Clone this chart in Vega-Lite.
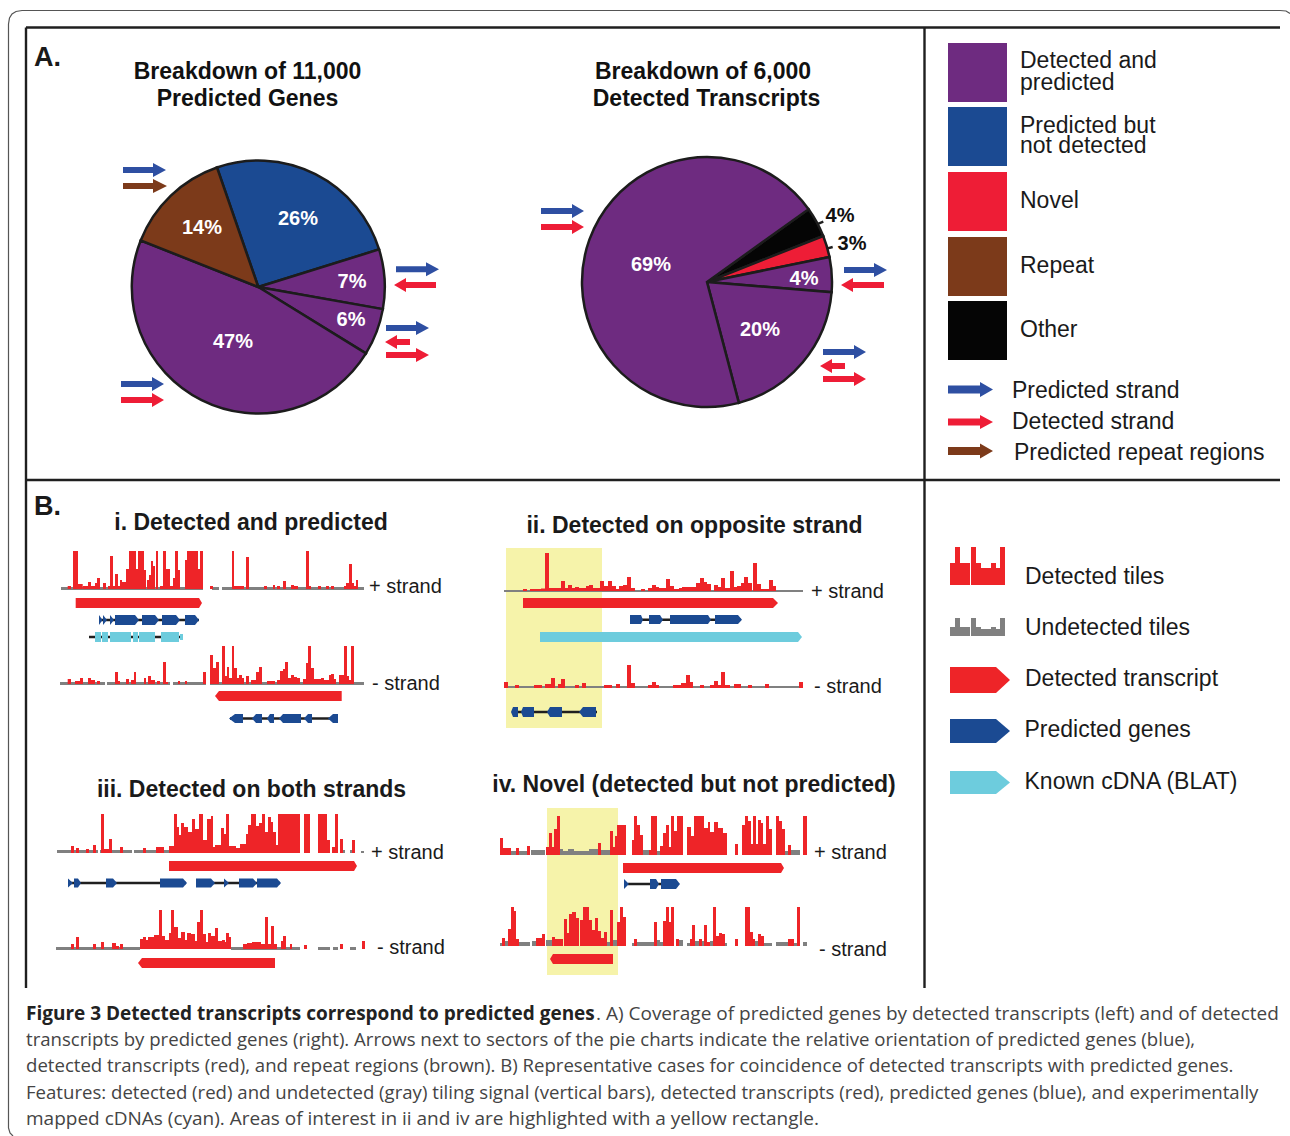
{"$schema":"https://vega.github.io/schema/vega-lite/v6.json","width":1290,"height":1136,"padding":0,"autosize":{"type":"none"},"background":"white","view":{"stroke":null},
"config":{"text":{"font":"Liberation Sans"}},
"datasets":{
"blocks":[
{"k":"yel","x":506,"x2":602,"y":548,"b":728},{"k":"yel","x":547,"x2":618,"y":808,"b":975},
{"k":"pur","x":948,"x2":1007,"y":43,"b":102},{"k":"blu","x":948,"x2":1007,"y":107,"b":166},{"k":"nov","x":948,"x2":1007,"y":172,"b":231},{"k":"rep","x":948,"x2":1007,"y":237,"b":296},{"k":"oth","x":948,"x2":1007,"y":301,"b":360}],
"tiles":[
{"s":"i+","k":"und","x":61,"x2":203,"y":587,"b":590},{"s":"i+","k":"und","x":212,"x2":219,"y":587,"b":590},{"s":"i+","k":"und","x":222,"x2":364,"y":587,"b":590},
{"s":"i-","k":"und","x":60,"x2":105,"y":682,"b":685},{"s":"i-","k":"und","x":107,"x2":170,"y":682,"b":685},{"s":"i-","k":"und","x":173,"x2":206,"y":682,"b":685},{"s":"i-","k":"und","x":210,"x2":364,"y":682,"b":685},
{"s":"ii+","k":"und","x":504,"x2":803,"y":590,"b":592},{"s":"ii-","k":"und","x":504,"x2":803,"y":686,"b":688},
{"s":"iii+","k":"und","x":57,"x2":98,"y":850,"b":853},{"s":"iii+","k":"und","x":100,"x2":132,"y":850,"b":853},{"s":"iii+","k":"und","x":134,"x2":173,"y":850,"b":853},{"s":"iii+","k":"und","x":340,"x2":345,"y":850,"b":853},{"s":"iii+","k":"und","x":350,"x2":355,"y":850,"b":853},{"s":"iii+","k":"und","x":361,"x2":364,"y":851,"b":853},
{"s":"iii-","k":"und","x":56,"x2":140,"y":947,"b":950},{"s":"iii-","k":"und","x":231,"x2":300,"y":947,"b":950},{"s":"iii-","k":"und","x":318,"x2":330,"y":947,"b":950},{"s":"iii-","k":"und","x":333,"x2":338,"y":947,"b":950},{"s":"iii-","k":"und","x":350,"x2":356,"y":947,"b":950},
{"s":"iv+","k":"und","x":510,"x2":527,"y":851,"b":855},{"s":"iv+","k":"und","x":531,"x2":545,"y":850,"b":855},{"s":"iv+","k":"und","x":560,"x2":563,"y":849,"b":855},{"s":"iv+","k":"und","x":563,"x2":568,"y":851,"b":855},{"s":"iv+","k":"und","x":568,"x2":574,"y":849,"b":855},{"s":"iv+","k":"und","x":574,"x2":589,"y":851,"b":855},{"s":"iv+","k":"und","x":589,"x2":598,"y":849,"b":855},{"s":"iv+","k":"und","x":601,"x2":610,"y":850,"b":855},{"s":"iv+","k":"und","x":643,"x2":651,"y":850,"b":855},{"s":"iv+","k":"und","x":657,"x2":660,"y":851,"b":855},{"s":"iv+","k":"und","x":785,"x2":788,"y":851,"b":855},{"s":"iv+","k":"und","x":791,"x2":800,"y":850,"b":855},
{"s":"iv-","k":"und","x":500,"x2":503,"y":943,"b":946},{"s":"iv-","k":"und","x":505,"x2":508,"y":941,"b":946},{"s":"iv-","k":"und","x":519,"x2":530,"y":942,"b":946},{"s":"iv-","k":"und","x":532,"x2":536,"y":941,"b":946},{"s":"iv-","k":"und","x":546,"x2":552,"y":940,"b":946},{"s":"iv-","k":"und","x":607,"x2":610,"y":942,"b":946},{"s":"iv-","k":"und","x":612,"x2":617,"y":940,"b":946},{"s":"iv-","k":"und","x":632,"x2":634,"y":943,"b":946},{"s":"iv-","k":"und","x":637,"x2":654,"y":942,"b":946},{"s":"iv-","k":"und","x":657,"x2":660,"y":940,"b":946},{"s":"iv-","k":"und","x":660,"x2":663,"y":942,"b":946},{"s":"iv-","k":"und","x":679,"x2":683,"y":940,"b":946},{"s":"iv-","k":"und","x":687,"x2":690,"y":943,"b":946},{"s":"iv-","k":"und","x":695,"x2":705,"y":941,"b":946},{"s":"iv-","k":"und","x":710,"x2":713,"y":941,"b":946},{"s":"iv-","k":"und","x":725,"x2":727,"y":943,"b":946},{"s":"iv-","k":"und","x":755,"x2":758,"y":941,"b":946},{"s":"iv-","k":"und","x":764,"x2":772,"y":943,"b":946},{"s":"iv-","k":"und","x":776,"x2":788,"y":942,"b":946},{"s":"iv-","k":"und","x":794,"x2":797,"y":943,"b":946},{"s":"iv-","k":"und","x":803,"x2":807,"y":942,"b":946},
{"s":"lg","k":"und","x":950,"x2":955,"y":627,"b":636},{"s":"lg","k":"und","x":955,"x2":960,"y":618,"b":636},{"s":"lg","k":"und","x":960,"x2":970,"y":627,"b":636},{"s":"lg","k":"und","x":971,"x2":976,"y":618,"b":636},{"s":"lg","k":"und","x":976,"x2":981,"y":627,"b":636},{"s":"lg","k":"und","x":981,"x2":991,"y":629,"b":636},{"s":"lg","k":"und","x":991,"x2":996,"y":627,"b":636},{"s":"lg","k":"und","x":996,"x2":1000,"y":629,"b":636},{"s":"lg","k":"und","x":1000,"x2":1005,"y":618,"b":636},
{"s":"lg","k":"det","x":950,"x2":955,"y":563,"b":585},{"s":"lg","k":"det","x":955,"x2":960,"y":547,"b":585},{"s":"lg","k":"det","x":960,"x2":970,"y":563,"b":585},{"s":"lg","k":"det","x":971,"x2":976,"y":547,"b":585},{"s":"lg","k":"det","x":976,"x2":981,"y":563,"b":585},{"s":"lg","k":"det","x":981,"x2":991,"y":568,"b":585},{"s":"lg","k":"det","x":991,"x2":996,"y":563,"b":585},{"s":"lg","k":"det","x":996,"x2":1000,"y":568,"b":585},{"s":"lg","k":"det","x":1000,"x2":1005,"y":547,"b":585},
{"s":"i+","k":"det","x":67.7,"x2":71,"y":586,"b":589},{"s":"i+","k":"det","x":73,"x2":78,"y":551,"b":589},{"s":"i+","k":"det","x":78,"x2":82.7,"y":584,"b":589},{"s":"i+","k":"det","x":82.7,"x2":88,"y":586,"b":589},{"s":"i+","k":"det","x":88,"x2":91,"y":582,"b":589},{"s":"i+","k":"det","x":91,"x2":95,"y":586,"b":589},{"s":"i+","k":"det","x":95,"x2":97,"y":583,"b":589},{"s":"i+","k":"det","x":97,"x2":100,"y":578,"b":589},{"s":"i+","k":"det","x":103,"x2":106,"y":583,"b":589},{"s":"i+","k":"det","x":108,"x2":110,"y":586,"b":589},{"s":"i+","k":"det","x":110,"x2":113,"y":556,"b":589},{"s":"i+","k":"det","x":113,"x2":115,"y":586,"b":589},{"s":"i+","k":"det","x":115,"x2":118,"y":574,"b":589},{"s":"i+","k":"det","x":118,"x2":120,"y":586,"b":589},{"s":"i+","k":"det","x":120,"x2":122,"y":580,"b":589},{"s":"i+","k":"det","x":122,"x2":126,"y":582,"b":589},{"s":"i+","k":"det","x":126,"x2":129,"y":569,"b":589},{"s":"i+","k":"det","x":129,"x2":136,"y":551,"b":589},{"s":"i+","k":"det","x":136,"x2":138,"y":569,"b":589},{"s":"i+","k":"det","x":138,"x2":144,"y":551,"b":589},{"s":"i+","k":"det","x":144,"x2":146,"y":570,"b":589},{"s":"i+","k":"det","x":147,"x2":149,"y":580,"b":589},{"s":"i+","k":"det","x":149,"x2":151,"y":575,"b":589},{"s":"i+","k":"det","x":151,"x2":153,"y":561,"b":589},{"s":"i+","k":"det","x":153,"x2":155,"y":566,"b":589},{"s":"i+","k":"det","x":156,"x2":158,"y":551,"b":589},{"s":"i+","k":"det","x":160,"x2":163,"y":586,"b":589},{"s":"i+","k":"det","x":163,"x2":166,"y":551,"b":589},{"s":"i+","k":"det","x":166,"x2":170,"y":569,"b":589},{"s":"i+","k":"det","x":170,"x2":173,"y":586,"b":589},{"s":"i+","k":"det","x":173,"x2":175,"y":578,"b":589},{"s":"i+","k":"det","x":175,"x2":178,"y":551,"b":589},{"s":"i+","k":"det","x":178,"x2":180,"y":570,"b":589},{"s":"i+","k":"det","x":185,"x2":187,"y":560,"b":589},{"s":"i+","k":"det","x":187,"x2":198,"y":551,"b":589},{"s":"i+","k":"det","x":198,"x2":200,"y":569,"b":589},{"s":"i+","k":"det","x":200,"x2":203,"y":551,"b":589},{"s":"i+","k":"det","x":210,"x2":213,"y":586,"b":589},{"s":"i+","k":"det","x":232,"x2":234,"y":551,"b":589},{"s":"i+","k":"det","x":234,"x2":244,"y":586,"b":589},{"s":"i+","k":"det","x":246,"x2":249,"y":557,"b":589},{"s":"i+","k":"det","x":264,"x2":267,"y":586,"b":589},{"s":"i+","k":"det","x":273,"x2":275,"y":585,"b":589},{"s":"i+","k":"det","x":277,"x2":280,"y":586,"b":589},{"s":"i+","k":"det","x":283,"x2":286,"y":581,"b":589},{"s":"i+","k":"det","x":291,"x2":294,"y":585,"b":589},{"s":"i+","k":"det","x":294,"x2":298,"y":586,"b":589},{"s":"i+","k":"det","x":306,"x2":309,"y":551,"b":589},{"s":"i+","k":"det","x":309,"x2":311,"y":586,"b":589},{"s":"i+","k":"det","x":318,"x2":321,"y":586,"b":589},{"s":"i+","k":"det","x":326,"x2":329,"y":586,"b":589},{"s":"i+","k":"det","x":331,"x2":334,"y":586,"b":589},{"s":"i+","k":"det","x":344,"x2":346,"y":586,"b":589},{"s":"i+","k":"det","x":346,"x2":349,"y":583,"b":589},{"s":"i+","k":"det","x":349,"x2":352,"y":564,"b":589},{"s":"i+","k":"det","x":352,"x2":354,"y":583,"b":589},{"s":"i+","k":"det","x":354,"x2":356,"y":586,"b":589},{"s":"i+","k":"det","x":356,"x2":358,"y":580,"b":589},
{"s":"i-","k":"det","x":67.7,"x2":71,"y":679,"b":684},{"s":"i-","k":"det","x":75,"x2":80,"y":681,"b":684},{"s":"i-","k":"det","x":80,"x2":83,"y":678,"b":684},{"s":"i-","k":"det","x":88,"x2":91,"y":678,"b":684},{"s":"i-","k":"det","x":91,"x2":95,"y":680,"b":684},{"s":"i-","k":"det","x":97,"x2":100,"y":681,"b":684},{"s":"i-","k":"det","x":115,"x2":118,"y":672,"b":684},{"s":"i-","k":"det","x":118,"x2":120,"y":681,"b":684},{"s":"i-","k":"det","x":126,"x2":129,"y":679,"b":684},{"s":"i-","k":"det","x":131,"x2":134,"y":680,"b":684},{"s":"i-","k":"det","x":134,"x2":136,"y":672,"b":684},{"s":"i-","k":"det","x":144,"x2":146,"y":678,"b":684},{"s":"i-","k":"det","x":148,"x2":151,"y":676,"b":684},{"s":"i-","k":"det","x":151,"x2":155,"y":680,"b":684},{"s":"i-","k":"det","x":157,"x2":160,"y":681,"b":684},{"s":"i-","k":"det","x":163,"x2":166,"y":662,"b":684},{"s":"i-","k":"det","x":166,"x2":168,"y":682,"b":684},{"s":"i-","k":"det","x":178,"x2":180,"y":681,"b":684},{"s":"i-","k":"det","x":185,"x2":187,"y":681,"b":684},{"s":"i-","k":"det","x":203,"x2":206,"y":672,"b":684},{"s":"i-","k":"det","x":210,"x2":213,"y":655,"b":684},{"s":"i-","k":"det","x":213,"x2":216,"y":668,"b":684},{"s":"i-","k":"det","x":216,"x2":219,"y":662,"b":684},{"s":"i-","k":"det","x":222,"x2":225,"y":646,"b":684},{"s":"i-","k":"det","x":225,"x2":227,"y":676,"b":684},{"s":"i-","k":"det","x":227,"x2":229,"y":667,"b":684},{"s":"i-","k":"det","x":229,"x2":232,"y":678,"b":684},{"s":"i-","k":"det","x":232,"x2":234,"y":646,"b":684},{"s":"i-","k":"det","x":234,"x2":237,"y":668,"b":684},{"s":"i-","k":"det","x":237,"x2":239,"y":678,"b":684},{"s":"i-","k":"det","x":239,"x2":242,"y":675,"b":684},{"s":"i-","k":"det","x":242,"x2":244,"y":678,"b":684},{"s":"i-","k":"det","x":246,"x2":249,"y":676,"b":684},{"s":"i-","k":"det","x":251,"x2":256,"y":680,"b":684},{"s":"i-","k":"det","x":256,"x2":259,"y":672,"b":684},{"s":"i-","k":"det","x":259,"x2":262,"y":667,"b":684},{"s":"i-","k":"det","x":267,"x2":275,"y":681,"b":684},{"s":"i-","k":"det","x":277,"x2":280,"y":680,"b":684},{"s":"i-","k":"det","x":280,"x2":283,"y":671,"b":684},{"s":"i-","k":"det","x":283,"x2":285,"y":669,"b":684},{"s":"i-","k":"det","x":285,"x2":288,"y":662,"b":684},{"s":"i-","k":"det","x":288,"x2":291,"y":678,"b":684},{"s":"i-","k":"det","x":291,"x2":294,"y":675,"b":684},{"s":"i-","k":"det","x":294,"x2":297,"y":677,"b":684},{"s":"i-","k":"det","x":297,"x2":300,"y":678,"b":684},{"s":"i-","k":"det","x":303,"x2":306,"y":679,"b":684},{"s":"i-","k":"det","x":306,"x2":308,"y":663,"b":684},{"s":"i-","k":"det","x":308,"x2":311,"y":646,"b":684},{"s":"i-","k":"det","x":311,"x2":314,"y":668,"b":684},{"s":"i-","k":"det","x":314,"x2":321,"y":679,"b":684},{"s":"i-","k":"det","x":321,"x2":324,"y":678,"b":684},{"s":"i-","k":"det","x":324,"x2":329,"y":680,"b":684},{"s":"i-","k":"det","x":329,"x2":331,"y":675,"b":684},{"s":"i-","k":"det","x":331,"x2":334,"y":674,"b":684},{"s":"i-","k":"det","x":334,"x2":336,"y":679,"b":684},{"s":"i-","k":"det","x":339,"x2":344,"y":675,"b":684},{"s":"i-","k":"det","x":344,"x2":347,"y":646,"b":684},{"s":"i-","k":"det","x":347,"x2":349,"y":676,"b":684},{"s":"i-","k":"det","x":349,"x2":351,"y":680,"b":684},{"s":"i-","k":"det","x":351,"x2":354,"y":646,"b":684},
{"s":"ii+","k":"det","x":523,"x2":527,"y":589,"b":591},{"s":"ii+","k":"det","x":530,"x2":541,"y":589,"b":591},{"s":"ii+","k":"det","x":541,"x2":545,"y":588.5,"b":591},{"s":"ii+","k":"det","x":545,"x2":549,"y":553,"b":591},{"s":"ii+","k":"det","x":549,"x2":561,"y":588,"b":591},{"s":"ii+","k":"det","x":561,"x2":565,"y":581,"b":591},{"s":"ii+","k":"det","x":565,"x2":568,"y":588,"b":591},{"s":"ii+","k":"det","x":568,"x2":572,"y":585,"b":591},{"s":"ii+","k":"det","x":572,"x2":575,"y":588,"b":591},{"s":"ii+","k":"det","x":575,"x2":579,"y":587,"b":591},{"s":"ii+","k":"det","x":579,"x2":586,"y":588,"b":591},{"s":"ii+","k":"det","x":586,"x2":589,"y":586,"b":591},{"s":"ii+","k":"det","x":589,"x2":593,"y":585,"b":591},{"s":"ii+","k":"det","x":593,"x2":600,"y":588,"b":591},{"s":"ii+","k":"det","x":600,"x2":604,"y":581,"b":591},{"s":"ii+","k":"det","x":604,"x2":608,"y":586,"b":591},{"s":"ii+","k":"det","x":608,"x2":612,"y":581,"b":591},{"s":"ii+","k":"det","x":612,"x2":616,"y":586,"b":591},{"s":"ii+","k":"det","x":616,"x2":619,"y":589,"b":591},{"s":"ii+","k":"det","x":619,"x2":623,"y":586,"b":591},{"s":"ii+","k":"det","x":623,"x2":627,"y":585,"b":591},{"s":"ii+","k":"det","x":627,"x2":631,"y":577,"b":591},{"s":"ii+","k":"det","x":631,"x2":635,"y":588,"b":591},{"s":"ii+","k":"det","x":641,"x2":645,"y":589,"b":591},{"s":"ii+","k":"det","x":648,"x2":652,"y":588,"b":591},{"s":"ii+","k":"det","x":652,"x2":656,"y":585,"b":591},{"s":"ii+","k":"det","x":656,"x2":659,"y":587,"b":591},{"s":"ii+","k":"det","x":659,"x2":666,"y":588,"b":591},{"s":"ii+","k":"det","x":666,"x2":670,"y":579,"b":591},{"s":"ii+","k":"det","x":670,"x2":674,"y":586,"b":591},{"s":"ii+","k":"det","x":674,"x2":679,"y":589,"b":591},{"s":"ii+","k":"det","x":679,"x2":682,"y":588,"b":591},{"s":"ii+","k":"det","x":682,"x2":696,"y":587,"b":591},{"s":"ii+","k":"det","x":696,"x2":700,"y":583,"b":591},{"s":"ii+","k":"det","x":700,"x2":704,"y":578,"b":591},{"s":"ii+","k":"det","x":704,"x2":707,"y":582,"b":591},{"s":"ii+","k":"det","x":707,"x2":711,"y":584,"b":591},{"s":"ii+","k":"det","x":714,"x2":718,"y":585,"b":591},{"s":"ii+","k":"det","x":718,"x2":721,"y":587,"b":591},{"s":"ii+","k":"det","x":721,"x2":725,"y":578,"b":591},{"s":"ii+","k":"det","x":725,"x2":730,"y":588,"b":591},{"s":"ii+","k":"det","x":730,"x2":734,"y":571,"b":591},{"s":"ii+","k":"det","x":734,"x2":737,"y":587,"b":591},{"s":"ii+","k":"det","x":737,"x2":741,"y":586,"b":591},{"s":"ii+","k":"det","x":741,"x2":744,"y":583,"b":591},{"s":"ii+","k":"det","x":744,"x2":748,"y":577,"b":591},{"s":"ii+","k":"det","x":748,"x2":752,"y":583,"b":591},{"s":"ii+","k":"det","x":753,"x2":757,"y":563,"b":591},{"s":"ii+","k":"det","x":757,"x2":761,"y":584,"b":591},{"s":"ii+","k":"det","x":761,"x2":769,"y":589,"b":591},{"s":"ii+","k":"det","x":769,"x2":773,"y":580,"b":591},{"s":"ii+","k":"det","x":773,"x2":776,"y":586,"b":591},
{"s":"ii-","k":"det","x":504,"x2":508,"y":682,"b":688},{"s":"ii-","k":"det","x":515,"x2":519,"y":685,"b":688},{"s":"ii-","k":"det","x":534,"x2":542,"y":685,"b":688},{"s":"ii-","k":"det","x":545,"x2":551,"y":684,"b":688},{"s":"ii-","k":"det","x":551,"x2":555,"y":678,"b":688},{"s":"ii-","k":"det","x":558,"x2":561,"y":684,"b":688},{"s":"ii-","k":"det","x":561,"x2":565,"y":679,"b":688},{"s":"ii-","k":"det","x":575,"x2":579,"y":685,"b":688},{"s":"ii-","k":"det","x":582,"x2":586,"y":683,"b":688},{"s":"ii-","k":"det","x":604,"x2":612,"y":685,"b":688},{"s":"ii-","k":"det","x":616,"x2":620,"y":684,"b":688},{"s":"ii-","k":"det","x":627,"x2":631,"y":665,"b":688},{"s":"ii-","k":"det","x":631,"x2":635,"y":683,"b":688},{"s":"ii-","k":"det","x":648,"x2":652,"y":685,"b":688},{"s":"ii-","k":"det","x":652,"x2":656,"y":682,"b":688},{"s":"ii-","k":"det","x":656,"x2":659,"y":685,"b":688},{"s":"ii-","k":"det","x":673,"x2":681,"y":685,"b":688},{"s":"ii-","k":"det","x":681,"x2":686,"y":683,"b":688},{"s":"ii-","k":"det","x":686,"x2":690,"y":675,"b":688},{"s":"ii-","k":"det","x":690,"x2":693,"y":682,"b":688},{"s":"ii-","k":"det","x":700,"x2":704,"y":685,"b":688},{"s":"ii-","k":"det","x":710,"x2":714,"y":685,"b":688},{"s":"ii-","k":"det","x":714,"x2":718,"y":681,"b":688},{"s":"ii-","k":"det","x":718,"x2":721,"y":685,"b":688},{"s":"ii-","k":"det","x":721,"x2":725,"y":672,"b":688},{"s":"ii-","k":"det","x":725,"x2":730,"y":685,"b":688},{"s":"ii-","k":"det","x":734,"x2":741,"y":684,"b":688},{"s":"ii-","k":"det","x":748,"x2":752,"y":685,"b":688},{"s":"ii-","k":"det","x":765,"x2":769,"y":684,"b":688},{"s":"ii-","k":"det","x":799,"x2":803,"y":682,"b":688},
{"s":"iii+","k":"det","x":71,"x2":74,"y":846,"b":853},{"s":"iii+","k":"det","x":76,"x2":79,"y":848,"b":853},{"s":"iii+","k":"det","x":86,"x2":89,"y":849,"b":853},{"s":"iii+","k":"det","x":93,"x2":96,"y":845,"b":853},{"s":"iii+","k":"det","x":101,"x2":104,"y":814,"b":853},{"s":"iii+","k":"det","x":104,"x2":109,"y":849,"b":853},{"s":"iii+","k":"det","x":109,"x2":112,"y":839,"b":853},{"s":"iii+","k":"det","x":120,"x2":123,"y":847,"b":853},{"s":"iii+","k":"det","x":143,"x2":146,"y":848,"b":853},{"s":"iii+","k":"det","x":156,"x2":164,"y":847,"b":853},{"s":"iii+","k":"det","x":169,"x2":174,"y":846,"b":853},{"s":"iii+","k":"det","x":174,"x2":177,"y":814,"b":853},{"s":"iii+","k":"det","x":177,"x2":179,"y":827,"b":853},{"s":"iii+","k":"det","x":179,"x2":181,"y":835,"b":853},{"s":"iii+","k":"det","x":181,"x2":184,"y":823,"b":853},{"s":"iii+","k":"det","x":184,"x2":188,"y":827,"b":853},{"s":"iii+","k":"det","x":188,"x2":192,"y":832,"b":853},{"s":"iii+","k":"det","x":192,"x2":195,"y":819,"b":853},{"s":"iii+","k":"det","x":195,"x2":199,"y":829,"b":853},{"s":"iii+","k":"det","x":199,"x2":203,"y":814,"b":853},{"s":"iii+","k":"det","x":203,"x2":207,"y":840,"b":853},{"s":"iii+","k":"det","x":207,"x2":211,"y":819,"b":853},{"s":"iii+","k":"det","x":211,"x2":213,"y":816,"b":853},{"s":"iii+","k":"det","x":213,"x2":215,"y":847,"b":853},{"s":"iii+","k":"det","x":215,"x2":221,"y":845,"b":853},{"s":"iii+","k":"det","x":221,"x2":224,"y":828,"b":853},{"s":"iii+","k":"det","x":224,"x2":226,"y":834,"b":853},{"s":"iii+","k":"det","x":226,"x2":229,"y":814,"b":853},{"s":"iii+","k":"det","x":229,"x2":236,"y":846,"b":853},{"s":"iii+","k":"det","x":236,"x2":240,"y":848,"b":853},{"s":"iii+","k":"det","x":240,"x2":246,"y":844,"b":853},{"s":"iii+","k":"det","x":246,"x2":248,"y":834,"b":853},{"s":"iii+","k":"det","x":248,"x2":251,"y":825,"b":853},{"s":"iii+","k":"det","x":251,"x2":256,"y":814,"b":853},{"s":"iii+","k":"det","x":256,"x2":259,"y":826,"b":853},{"s":"iii+","k":"det","x":259,"x2":262,"y":823,"b":853},{"s":"iii+","k":"det","x":262,"x2":265,"y":814,"b":853},{"s":"iii+","k":"det","x":265,"x2":268,"y":832,"b":853},{"s":"iii+","k":"det","x":268,"x2":271,"y":817,"b":853},{"s":"iii+","k":"det","x":271,"x2":273,"y":822,"b":853},{"s":"iii+","k":"det","x":273,"x2":276,"y":832,"b":853},{"s":"iii+","k":"det","x":276,"x2":278,"y":845,"b":853},{"s":"iii+","k":"det","x":278,"x2":300,"y":814,"b":853},{"s":"iii+","k":"det","x":304,"x2":310,"y":814,"b":853},{"s":"iii+","k":"det","x":318,"x2":327,"y":814,"b":853},{"s":"iii+","k":"det","x":327,"x2":330,"y":840,"b":853},{"s":"iii+","k":"det","x":332,"x2":335,"y":847,"b":853},{"s":"iii+","k":"det","x":335,"x2":338,"y":814,"b":853},{"s":"iii+","k":"det","x":340,"x2":343,"y":839,"b":853},{"s":"iii+","k":"det","x":352,"x2":355,"y":840,"b":853},
{"s":"iii-","k":"det","x":71,"x2":74,"y":944,"b":949},{"s":"iii-","k":"det","x":76,"x2":79,"y":937,"b":949},{"s":"iii-","k":"det","x":93,"x2":96,"y":944,"b":949},{"s":"iii-","k":"det","x":101,"x2":104,"y":942,"b":949},{"s":"iii-","k":"det","x":112,"x2":116,"y":943,"b":949},{"s":"iii-","k":"det","x":116,"x2":119,"y":946,"b":949},{"s":"iii-","k":"det","x":120,"x2":123,"y":944,"b":949},{"s":"iii-","k":"det","x":140,"x2":143,"y":939,"b":949},{"s":"iii-","k":"det","x":143,"x2":146,"y":937,"b":949},{"s":"iii-","k":"det","x":146,"x2":148,"y":940,"b":949},{"s":"iii-","k":"det","x":148,"x2":154,"y":937,"b":949},{"s":"iii-","k":"det","x":154,"x2":159,"y":935,"b":949},{"s":"iii-","k":"det","x":159,"x2":162,"y":910,"b":949},{"s":"iii-","k":"det","x":162,"x2":165,"y":936,"b":949},{"s":"iii-","k":"det","x":165,"x2":169,"y":940,"b":949},{"s":"iii-","k":"det","x":169,"x2":171,"y":933,"b":949},{"s":"iii-","k":"det","x":171,"x2":174,"y":910,"b":949},{"s":"iii-","k":"det","x":174,"x2":178,"y":927,"b":949},{"s":"iii-","k":"det","x":178,"x2":181,"y":938,"b":949},{"s":"iii-","k":"det","x":181,"x2":185,"y":932,"b":949},{"s":"iii-","k":"det","x":185,"x2":187,"y":940,"b":949},{"s":"iii-","k":"det","x":187,"x2":191,"y":933,"b":949},{"s":"iii-","k":"det","x":191,"x2":195,"y":934,"b":949},{"s":"iii-","k":"det","x":195,"x2":197,"y":941,"b":949},{"s":"iii-","k":"det","x":197,"x2":200,"y":922,"b":949},{"s":"iii-","k":"det","x":200,"x2":203,"y":910,"b":949},{"s":"iii-","k":"det","x":203,"x2":206,"y":934,"b":949},{"s":"iii-","k":"det","x":206,"x2":208,"y":942,"b":949},{"s":"iii-","k":"det","x":208,"x2":211,"y":933,"b":949},{"s":"iii-","k":"det","x":211,"x2":215,"y":936,"b":949},{"s":"iii-","k":"det","x":215,"x2":218,"y":928,"b":949},{"s":"iii-","k":"det","x":218,"x2":222,"y":941,"b":949},{"s":"iii-","k":"det","x":222,"x2":225,"y":940,"b":949},{"s":"iii-","k":"det","x":225,"x2":226,"y":942,"b":949},{"s":"iii-","k":"det","x":226,"x2":229,"y":933,"b":949},{"s":"iii-","k":"det","x":229,"x2":231,"y":937,"b":949},{"s":"iii-","k":"det","x":243,"x2":247,"y":944,"b":949},{"s":"iii-","k":"det","x":247,"x2":252,"y":943,"b":949},{"s":"iii-","k":"det","x":252,"x2":261,"y":942,"b":949},{"s":"iii-","k":"det","x":261,"x2":265,"y":944,"b":949},{"s":"iii-","k":"det","x":265,"x2":268,"y":917,"b":949},{"s":"iii-","k":"det","x":268,"x2":271,"y":944,"b":949},{"s":"iii-","k":"det","x":271,"x2":274,"y":926,"b":949},{"s":"iii-","k":"det","x":274,"x2":277,"y":944,"b":949},{"s":"iii-","k":"det","x":281,"x2":283,"y":941,"b":949},{"s":"iii-","k":"det","x":283,"x2":286,"y":936,"b":949},{"s":"iii-","k":"det","x":290,"x2":292,"y":944,"b":949},{"s":"iii-","k":"det","x":304,"x2":307,"y":945,"b":949},{"s":"iii-","k":"det","x":340,"x2":343,"y":944,"b":949},{"s":"iii-","k":"det","x":362,"x2":365,"y":941,"b":949},
{"s":"iv+","k":"det","x":500,"x2":503,"y":838,"b":855},{"s":"iv+","k":"det","x":503,"x2":511,"y":848,"b":855},{"s":"iv+","k":"det","x":516,"x2":519,"y":848,"b":855},{"s":"iv+","k":"det","x":527,"x2":530,"y":846,"b":855},{"s":"iv+","k":"det","x":546,"x2":549,"y":847,"b":855},{"s":"iv+","k":"det","x":549,"x2":552,"y":833,"b":855},{"s":"iv+","k":"det","x":552,"x2":554,"y":847,"b":855},{"s":"iv+","k":"det","x":554,"x2":557,"y":829,"b":855},{"s":"iv+","k":"det","x":557,"x2":560,"y":816,"b":855},{"s":"iv+","k":"det","x":598,"x2":601,"y":843,"b":855},{"s":"iv+","k":"det","x":610,"x2":613,"y":831,"b":855},{"s":"iv+","k":"det","x":613,"x2":615,"y":847,"b":855},{"s":"iv+","k":"det","x":615,"x2":617,"y":836,"b":855},{"s":"iv+","k":"det","x":617,"x2":626,"y":825,"b":855},{"s":"iv+","k":"det","x":632,"x2":634,"y":840,"b":855},{"s":"iv+","k":"det","x":634,"x2":637,"y":816,"b":855},{"s":"iv+","k":"det","x":637,"x2":640,"y":825,"b":855},{"s":"iv+","k":"det","x":640,"x2":643,"y":835,"b":855},{"s":"iv+","k":"det","x":649,"x2":651,"y":850,"b":855},{"s":"iv+","k":"det","x":651,"x2":657,"y":816,"b":855},{"s":"iv+","k":"det","x":660,"x2":663,"y":846,"b":855},{"s":"iv+","k":"det","x":663,"x2":666,"y":833,"b":855},{"s":"iv+","k":"det","x":666,"x2":669,"y":825,"b":855},{"s":"iv+","k":"det","x":669,"x2":671,"y":847,"b":855},{"s":"iv+","k":"det","x":671,"x2":674,"y":816,"b":855},{"s":"iv+","k":"det","x":674,"x2":677,"y":831,"b":855},{"s":"iv+","k":"det","x":677,"x2":683,"y":816,"b":855},{"s":"iv+","k":"det","x":687,"x2":691,"y":827,"b":855},{"s":"iv+","k":"det","x":691,"x2":694,"y":836,"b":855},{"s":"iv+","k":"det","x":694,"x2":704,"y":816,"b":855},{"s":"iv+","k":"det","x":704,"x2":708,"y":828,"b":855},{"s":"iv+","k":"det","x":708,"x2":710,"y":822,"b":855},{"s":"iv+","k":"det","x":710,"x2":714,"y":832,"b":855},{"s":"iv+","k":"det","x":714,"x2":718,"y":822,"b":855},{"s":"iv+","k":"det","x":718,"x2":723,"y":828,"b":855},{"s":"iv+","k":"det","x":723,"x2":727,"y":833,"b":855},{"s":"iv+","k":"det","x":735,"x2":738,"y":844,"b":855},{"s":"iv+","k":"det","x":742,"x2":745,"y":825,"b":855},{"s":"iv+","k":"det","x":745,"x2":748,"y":816,"b":855},{"s":"iv+","k":"det","x":748,"x2":751,"y":821,"b":855},{"s":"iv+","k":"det","x":751,"x2":753,"y":844,"b":855},{"s":"iv+","k":"det","x":753,"x2":756,"y":816,"b":855},{"s":"iv+","k":"det","x":756,"x2":758,"y":844,"b":855},{"s":"iv+","k":"det","x":758,"x2":761,"y":820,"b":855},{"s":"iv+","k":"det","x":761,"x2":763,"y":823,"b":855},{"s":"iv+","k":"det","x":763,"x2":766,"y":844,"b":855},{"s":"iv+","k":"det","x":766,"x2":769,"y":816,"b":855},{"s":"iv+","k":"det","x":769,"x2":772,"y":829,"b":855},{"s":"iv+","k":"det","x":776,"x2":779,"y":816,"b":855},{"s":"iv+","k":"det","x":779,"x2":782,"y":821,"b":855},{"s":"iv+","k":"det","x":782,"x2":785,"y":829,"b":855},{"s":"iv+","k":"det","x":788,"x2":791,"y":845,"b":855},{"s":"iv+","k":"det","x":803,"x2":807,"y":816,"b":855},
{"s":"iv-","k":"det","x":502,"x2":505,"y":938,"b":946},{"s":"iv-","k":"det","x":508,"x2":511,"y":929,"b":946},{"s":"iv-","k":"det","x":511,"x2":514,"y":907,"b":946},{"s":"iv-","k":"det","x":514,"x2":516,"y":911,"b":946},{"s":"iv-","k":"det","x":516,"x2":519,"y":939,"b":946},{"s":"iv-","k":"det","x":536,"x2":542,"y":938,"b":946},{"s":"iv-","k":"det","x":542,"x2":545,"y":934,"b":946},{"s":"iv-","k":"det","x":552,"x2":555,"y":937,"b":946},{"s":"iv-","k":"det","x":555,"x2":563,"y":939,"b":946},{"s":"iv-","k":"det","x":564,"x2":567,"y":919,"b":946},{"s":"iv-","k":"det","x":567,"x2":569,"y":933,"b":946},{"s":"iv-","k":"det","x":569,"x2":572,"y":914,"b":946},{"s":"iv-","k":"det","x":572,"x2":576,"y":912,"b":946},{"s":"iv-","k":"det","x":576,"x2":579,"y":918,"b":946},{"s":"iv-","k":"det","x":580,"x2":583,"y":920,"b":946},{"s":"iv-","k":"det","x":583,"x2":589,"y":907,"b":946},{"s":"iv-","k":"det","x":589,"x2":592,"y":920,"b":946},{"s":"iv-","k":"det","x":592,"x2":595,"y":930,"b":946},{"s":"iv-","k":"det","x":595,"x2":598,"y":918,"b":946},{"s":"iv-","k":"det","x":598,"x2":601,"y":931,"b":946},{"s":"iv-","k":"det","x":601,"x2":604,"y":938,"b":946},{"s":"iv-","k":"det","x":604,"x2":607,"y":932,"b":946},{"s":"iv-","k":"det","x":610,"x2":613,"y":910,"b":946},{"s":"iv-","k":"det","x":617,"x2":620,"y":922,"b":946},{"s":"iv-","k":"det","x":620,"x2":623,"y":907,"b":946},{"s":"iv-","k":"det","x":623,"x2":626,"y":917,"b":946},{"s":"iv-","k":"det","x":634,"x2":637,"y":939,"b":946},{"s":"iv-","k":"det","x":654,"x2":657,"y":922,"b":946},{"s":"iv-","k":"det","x":663,"x2":666,"y":921,"b":946},{"s":"iv-","k":"det","x":666,"x2":669,"y":907,"b":946},{"s":"iv-","k":"det","x":669,"x2":671,"y":922,"b":946},{"s":"iv-","k":"det","x":671,"x2":674,"y":907,"b":946},{"s":"iv-","k":"det","x":676,"x2":679,"y":939,"b":946},{"s":"iv-","k":"det","x":690,"x2":692,"y":939,"b":946},{"s":"iv-","k":"det","x":692,"x2":695,"y":925,"b":946},{"s":"iv-","k":"det","x":699,"x2":702,"y":939,"b":946},{"s":"iv-","k":"det","x":704,"x2":707,"y":925,"b":946},{"s":"iv-","k":"det","x":707,"x2":710,"y":942,"b":946},{"s":"iv-","k":"det","x":713,"x2":716,"y":907,"b":946},{"s":"iv-","k":"det","x":716,"x2":719,"y":936,"b":946},{"s":"iv-","k":"det","x":719,"x2":722,"y":933,"b":946},{"s":"iv-","k":"det","x":722,"x2":725,"y":934,"b":946},{"s":"iv-","k":"det","x":735,"x2":738,"y":939,"b":946},{"s":"iv-","k":"det","x":745,"x2":750,"y":907,"b":946},{"s":"iv-","k":"det","x":750,"x2":753,"y":932,"b":946},{"s":"iv-","k":"det","x":753,"x2":755,"y":939,"b":946},{"s":"iv-","k":"det","x":758,"x2":761,"y":934,"b":946},{"s":"iv-","k":"det","x":761,"x2":764,"y":936,"b":946},{"s":"iv-","k":"det","x":788,"x2":794,"y":939,"b":946},{"s":"iv-","k":"det","x":797,"x2":800,"y":907,"b":946}
],
"rules":[
{"x":26,"x2":1280,"y":27.5,"y2":27.5,"w":"frame"},{"x":26,"x2":26,"y":27.5,"y2":988,"w":"frame"},{"x":924.5,"x2":924.5,"y":27.5,"y2":988,"w":"frame"},{"x":26,"x2":1280,"y":480,"y2":480,"w":"frame"},
{"x":99,"x2":199,"y":620,"y2":620,"w":"i gene"},{"x":89,"x2":183,"y":637,"y2":637,"w":"i cdna"},{"x":230,"x2":338,"y":718.5,"y2":718.5,"w":"i gene"},{"x":630,"x2":741,"y":619.7,"y2":619.7,"w":"ii gene"},{"x":518,"x2":597,"y":712,"y2":712,"w":"ii gene"},{"x":68,"x2":186,"y":883,"y2":883,"w":"iii gene"},{"x":196,"x2":280,"y":883,"y2":883,"w":"iii gene"},{"x":628,"x2":661,"y":884,"y2":884,"w":"iv gene"},
{"x":816.7,"x2":823.3,"y":224.3,"y2":221.7,"w":"tick"},{"x":826.7,"x2":832.7,"y":248.7,"y2":247,"w":"tick"}],
"outline":[{"x":13,"y":1136,"i":0},{"x":10,"y":1133,"i":1},{"x":8.5,"y":1128,"i":2},{"x":8.5,"y":24,"i":3},{"x":9.5,"y":18,"i":4},{"x":12,"y":14,"i":5},{"x":16,"y":11.5,"i":6},{"x":22,"y":10.5,"i":7},{"x":1280,"y":10.5,"i":8},{"x":1286,"y":11,"i":9},{"x":1290,"y":13.5,"i":10}],
"slicesGenes":[
{"pie":"genes","k":"blu","value":26,"x":258.3,"y":287,"t0":-5.3,"t1":20.2},{"pie":"genes","k":"pur","value":7,"x":258.3,"y":287,"t0":20.2,"t1":27.8},{"pie":"genes","k":"pur","value":6,"x":258.3,"y":287,"t0":27.8,"t1":33.8},{"pie":"genes","k":"pur","value":47,"x":258.3,"y":287,"t0":33.8,"t1":81},{"pie":"genes","k":"rep","value":14,"x":258.3,"y":287,"t0":81,"t1":94.7}],
"slicesTranscripts":[
{"pie":"transcripts","k":"oth","value":4,"x":707,"y":282,"t0":15.1,"t1":19},{"pie":"transcripts","k":"nov","value":3,"x":707,"y":282,"t0":19,"t1":21.8},{"pie":"transcripts","k":"pur","value":4,"x":707,"y":282,"t0":21.8,"t1":26.3},{"pie":"transcripts","k":"pur","value":20,"x":707,"y":282,"t0":26.3,"t1":45.9},{"pie":"transcripts","k":"pur","value":69,"x":707,"y":282,"t0":45.9,"t1":115.1}],
"shapes":[
{"id":"t1","k":"tx","x":[75.7,199,202],"y":[598,598,603],"y2":[608,608,603]},
{"id":"t2","k":"tx","x":[215,219,341.7],"y":[696,691,691],"y2":[696,701,701]},
{"id":"t3","k":"tx","x":[523,773,778],"y":[598,598,603],"y2":[608,608,603]},
{"id":"t4","k":"tx","x":[169,354,357],"y":[861,861,866],"y2":[871,871,866]},
{"id":"t5","k":"tx","x":[138,142,275],"y":[963,958,958],"y2":[963,968,968]},
{"id":"t6","k":"tx","x":[623,781,784],"y":[863,863,868],"y2":[873,873,868]},
{"id":"t7","k":"tx","x":[550,553,613],"y":[959,954,954],"y2":[959,964,964]},
{"id":"c1","k":"cdna","x":[540,798,802],"y":[632,632,637],"y2":[642,642,637]},
{"id":"g1","k":"gene","x":[99,102.5],"y":[615,620],"y2":[625,620]},{"id":"g2","k":"gene","x":[103,107],"y":[615,620],"y2":[625,620]},{"id":"g3","k":"gene","x":[110,114],"y":[615,620],"y2":[625,620]},{"id":"g4","k":"gene","x":[115,135,139],"y":[615,615,620],"y2":[625,625,620]},{"id":"g5","k":"gene","x":[142,155,159],"y":[615,615,620],"y2":[625,625,620]},{"id":"g6","k":"gene","x":[162,176,180],"y":[615,615,620],"y2":[625,625,620]},{"id":"g7","k":"gene","x":[185,195,199],"y":[615,615,620],"y2":[625,625,620]},
{"id":"d1","k":"cdna","x":[95,101],"y":[632,632],"y2":[642,642]},{"id":"d2","k":"cdna","x":[102,108],"y":[632,632],"y2":[642,642]},{"id":"d3","k":"cdna","x":[110,131],"y":[632,632],"y2":[642,642]},{"id":"d4","k":"cdna","x":[133,138],"y":[632,632],"y2":[642,642]},{"id":"d5","k":"cdna","x":[139,155],"y":[632,632],"y2":[642,642]},{"id":"d6","k":"cdna","x":[161,179],"y":[632,632],"y2":[642,642]},{"id":"d7","k":"cdna","x":[180,183],"y":[634,634],"y2":[640,640]},
{"id":"h1","k":"gene","x":[229,235,243],"y":[718.5,714,714],"y2":[718.5,723,723]},{"id":"h2","k":"gene","x":[252,256,262],"y":[718.5,714,714],"y2":[718.5,723,723]},{"id":"h3","k":"gene","x":[267,270,274],"y":[718.5,714,714],"y2":[718.5,723,723]},{"id":"h4","k":"gene","x":[279,283,301],"y":[718.5,714,714],"y2":[718.5,723,723]},{"id":"h5","k":"gene","x":[304,308,312],"y":[718.5,714,714],"y2":[718.5,723,723]},{"id":"h6","k":"gene","x":[328,333,338],"y":[718.5,714,714],"y2":[718.5,723,723]},
{"id":"j1","k":"gene","x":[630,641,643],"y":[615,615,619.7],"y2":[624,624,619.7]},{"id":"j2","k":"gene","x":[649,660,663],"y":[615,615,619.7],"y2":[624,624,619.7]},{"id":"j3","k":"gene","x":[670,708,711],"y":[615,615,619.7],"y2":[624,624,619.7]},{"id":"j4","k":"gene","x":[715,738,742],"y":[615,615,619.7],"y2":[624,624,619.7]},
{"id":"k1","k":"gene","x":[511,513,518],"y":[712,707,707],"y2":[712,717,717]},{"id":"k2","k":"gene","x":[521,523,534],"y":[712,707,707],"y2":[712,717,717]},{"id":"k3","k":"gene","x":[547,550,562],"y":[712,707,707],"y2":[712,717,717]},{"id":"k4","k":"gene","x":[579,583,596],"y":[712,707,707],"y2":[712,717,717]},
{"id":"m1","k":"gene","x":[68,73],"y":[878.5,883],"y2":[887.5,883]},{"id":"m2","k":"gene","x":[74,78,81],"y":[878.5,878.5,883],"y2":[887.5,887.5,883]},{"id":"m3","k":"gene","x":[106,113,117],"y":[878.5,878.5,883],"y2":[887.5,887.5,883]},{"id":"m4","k":"gene","x":[160,183,187],"y":[878.5,878.5,883],"y2":[887.5,887.5,883]},{"id":"m5","k":"gene","x":[196,211,215],"y":[878.5,878.5,883],"y2":[887.5,887.5,883]},{"id":"m6","k":"gene","x":[224,229],"y":[878.5,883],"y2":[887.5,883]},{"id":"m7","k":"gene","x":[239,253,257],"y":[878.5,878.5,883],"y2":[887.5,887.5,883]},{"id":"m8","k":"gene","x":[257,277,281],"y":[878.5,878.5,883],"y2":[887.5,887.5,883]},
{"id":"n1","k":"gene","x":[624,629],"y":[879,884],"y2":[889,884]},{"id":"n2","k":"gene","x":[650,656,659],"y":[879,879,884],"y2":[889,889,884]},{"id":"n3","k":"gene","x":[661,676,680],"y":[879,879,884],"y2":[889,889,884]},
{"id":"l1","k":"tx","x":[950,996,1010],"y":[667,667,680],"y2":[693,693,680]},{"id":"l2","k":"gene","x":[950,996,1010],"y":[719,719,731],"y2":[743,743,731]},{"id":"l3","k":"cdna","x":[950,996,1010],"y":[771,771,782.5],"y2":[794,794,782.5]},
{"id":"a1","k":"aBlue","x":[123,153,153,166],"y":[167,167,163,170],"y2":[173,173,177,170]},{"id":"a2","k":"aBrown","x":[123,153,153,167],"y":[183,183,179,186],"y2":[189,189,193,186]},
{"id":"a3","k":"aBlue","x":[396,426,426,439],"y":[266.3,266.3,262.3,269.3],"y2":[272.3,272.3,276.3,269.3]},{"id":"a4","k":"aRed","x":[394,406,406,436],"y":[285,278,282,282],"y2":[285,292,288,288]},
{"id":"a5","k":"aBlue","x":[386,416,416,429],"y":[325,325,321,328],"y2":[331,331,335,328]},{"id":"a6","k":"aRed","x":[385,397,397,410],"y":[342,335,339,339],"y2":[342,349,345,345]},{"id":"a7","k":"aRed","x":[386,416,416,429],"y":[352,352,348,355],"y2":[358,358,362,355]},
{"id":"a8","k":"aBlue","x":[121,152,152,164],"y":[381,381,377,384],"y2":[387,387,391,384]},{"id":"a9","k":"aRed","x":[121,152,152,164],"y":[397,397,393,400],"y2":[403,403,407,400]},
{"id":"b1","k":"aBlue","x":[541,572,572,584],"y":[208,208,204,211],"y2":[214,214,218,211]},{"id":"b2","k":"aRed","x":[541,572,572,584],"y":[224,224,220,227],"y2":[230,230,234,227]},
{"id":"b3","k":"aBlue","x":[844,874,874,887],"y":[267,267,263,270],"y2":[273,273,277,270]},{"id":"b4","k":"aRed","x":[841,853,853,884],"y":[285,278,282,282],"y2":[285,292,288,288]},
{"id":"b5","k":"aBlue","x":[823,854,854,866],"y":[349,349,345,352],"y2":[355,355,359,352]},{"id":"b6","k":"aRed","x":[820,832,832,845],"y":[366,359,363,363],"y2":[366,373,369,369]},{"id":"b7","k":"aRed","x":[823,854,854,866],"y":[376,376,372,379],"y2":[382,382,386,379]},
{"id":"c2","k":"aBlue","x":[948,980,980,993],"y":[385.5,385.5,382,389.5],"y2":[393.5,393.5,397,389.5]},{"id":"c3","k":"aRed","x":[948,980,980,993],"y":[418.5,418.5,415,422],"y2":[425.5,425.5,429,422]},{"id":"c4","k":"aBrown","x":[948,980,980,993],"y":[447,447,443.5,451],"y2":[455,455,458.5,451]}
],
"legendText":[{"x":1020,"y":61,"text":"Detected and"},{"x":1020,"y":83,"text":"predicted"},{"x":1020,"y":126,"text":"Predicted but"},{"x":1020,"y":146,"text":"not detected"},{"x":1020,"y":201,"text":"Novel"},{"x":1020,"y":266,"text":"Repeat"},{"x":1020,"y":330,"text":"Other"},{"x":1012,"y":391,"text":"Predicted strand"},{"x":1012,"y":422,"text":"Detected strand"},{"x":1014,"y":453,"text":"Predicted repeat regions"},{"x":1025,"y":577,"text":"Detected tiles"},{"x":1025,"y":628,"text":"Undetected tiles"},{"x":1025,"y":679,"text":"Detected transcript"},{"x":1024.5,"y":730,"text":"Predicted genes"},{"x":1024.5,"y":782,"text":"Known cDNA (BLAT)"}],
"strandText":[{"x":369,"y":587,"text":"+ strand"},{"x":372,"y":684,"text":"- strand"},{"x":811,"y":592,"text":"+ strand"},{"x":814,"y":687,"text":"- strand"},{"x":371,"y":853,"text":"+ strand"},{"x":377,"y":948,"text":"- strand"},{"x":814,"y":853,"text":"+ strand"},{"x":819,"y":950,"text":"- strand"}],
"titles":[{"x":247.5,"y":72,"text":"Breakdown of 11,000"},{"x":247.5,"y":99,"text":"Predicted Genes"},{"x":703,"y":72,"text":"Breakdown of 6,000"},{"x":706.5,"y":99,"text":"Detected Transcripts"}],
"subtitles":[{"x":251,"y":523,"text":"i. Detected and predicted"},{"x":694.5,"y":526,"text":"ii. Detected on opposite strand"},{"x":251.5,"y":790,"text":"iii. Detected on both strands"},{"x":694,"y":785,"text":"iv. Novel (detected but not predicted)"}],
"panels":[{"x":34,"y":58,"text":"A."},{"x":34,"y":507,"text":"B."}],
"whitePct":[{"x":298,"y":219,"text":"26%"},{"x":202,"y":228,"text":"14%"},{"x":352,"y":282,"text":"7%"},{"x":351,"y":320,"text":"6%"},{"x":233,"y":342,"text":"47%"},{"x":651,"y":265,"text":"69%"},{"x":804,"y":279,"text":"4%"},{"x":760,"y":330,"text":"20%"}],
"blackPct":[{"x":840,"y":216,"text":"4%"},{"x":852,"y":244,"text":"3%"}],
"captionBold":[{"x":26,"y":1014,"text":"Figure 3 Detected transcripts correspond to predicted genes"}],
"captionWide":[{"x":596,"y":1014,"text":". A) Coverage of predicted genes by detected transcripts (left) and of detected"},{"x":26,"y":1119,"text":"mapped cDNAs (cyan). Areas of interest in ii and iv are highlighted with a yellow rectangle."}],
"captionTight":[{"x":26,"y":1040,"text":"transcripts by predicted genes (right). Arrows next to sectors of the pie charts indicate the relative orientation of predicted genes (blue),"},{"x":26,"y":1066,"text":"detected transcripts (red), and repeat regions (brown). B) Representative cases for coincidence of detected transcripts with predicted genes."},{"x":26,"y":1093,"text":"Features: detected (red) and undetected (gray) tiling signal (vertical bars), detected transcripts (red), predicted genes (blue), and experimentally"}]
},
"encoding":{"x":{"field":"x","type":"quantitative","axis":null,"scale":{"domain":[0,1290],"nice":false,"zero":false}},"y":{"field":"y","type":"quantitative","axis":null,"scale":{"domain":[1136,0],"nice":false,"zero":false}}},
"resolve":{"scale":{"color":"shared"}},
"layer":[
{"data":{"name":"blocks"},"mark":{"type":"rect"},"encoding":{"x2":{"field":"x2"},"y2":{"field":"b"},"color":{"field":"k","type":"nominal","legend":null,"scale":{"domain":["yel","pur","blu","nov","rep","oth","det","und","tx","gene","cdna","aBlue","aRed","aBrown"],"range":["#F6F3AA","#6E2B80","#1B4A92","#EE1D36","#7C3A1A","#050505","#EE2428","#808080","#EE2428","#1B4A92","#6DCCDD","#2E4FA2","#EE1D36","#7C3A1A"]}}}},
{"data":{"name":"tiles"},"mark":{"type":"rect"},"encoding":{"x2":{"field":"x2"},"y2":{"field":"b"},"color":{"field":"k","type":"nominal","legend":null}}},
{"data":{"name":"outline"},"mark":{"type":"line","color":"#555555","strokeWidth":1.2},"encoding":{"order":{"field":"i"}}},
{"data":{"name":"rules"},"mark":{"type":"rule","color":"#1f1f1f","strokeWidth":2.4},"encoding":{"x2":{"field":"x2"},"y2":{"field":"y2"}}},
{"data":{"name":"shapes","format":{"parse":null}},"transform":[{"flatten":["x","y","y2"]}],"mark":{"type":"area"},"encoding":{"y2":{"field":"y2"},"detail":{"field":"id"},"color":{"field":"k","type":"nominal","legend":null}}},
{"data":{"name":"slicesGenes"},"mark":{"type":"arc","outerRadius":126.5,"stroke":"#1c1c1c","strokeWidth":2.5},"encoding":{"theta":{"field":"t0","type":"quantitative","scale":{"domain":[0,100],"range":[0,6.283185]}},"theta2":{"field":"t1"},"color":{"field":"k","type":"nominal","legend":null}}},
{"data":{"name":"slicesTranscripts"},"mark":{"type":"arc","outerRadius":125,"stroke":"#1c1c1c","strokeWidth":2.5},"encoding":{"theta":{"field":"t0","type":"quantitative","scale":{"domain":[0,100],"range":[0,6.283185]}},"theta2":{"field":"t1"},"color":{"field":"k","type":"nominal","legend":null}}},
{"data":{"name":"legendText"},"mark":{"type":"text","align":"left","baseline":"middle","fontSize":23,"color":"#1a1a1a"},"encoding":{"text":{"field":"text"}}},
{"data":{"name":"strandText"},"mark":{"type":"text","align":"left","baseline":"middle","fontSize":20,"color":"#1a1a1a"},"encoding":{"text":{"field":"text"}}},
{"data":{"name":"titles"},"mark":{"type":"text","align":"center","baseline":"middle","fontSize":23,"fontWeight":"bold","color":"#111111"},"encoding":{"text":{"field":"text"}}},
{"data":{"name":"subtitles"},"mark":{"type":"text","align":"center","baseline":"middle","fontSize":23,"fontWeight":"bold","color":"#1a1a1a"},"encoding":{"text":{"field":"text"}}},
{"data":{"name":"panels"},"mark":{"type":"text","align":"left","baseline":"middle","fontSize":27,"fontWeight":"bold","color":"#1a1a1a"},"encoding":{"text":{"field":"text"}}},
{"data":{"name":"whitePct"},"mark":{"type":"text","align":"center","baseline":"middle","fontSize":20,"fontWeight":"bold","color":"#ffffff"},"encoding":{"text":{"field":"text"}}},
{"data":{"name":"blackPct"},"mark":{"type":"text","align":"center","baseline":"middle","fontSize":20,"fontWeight":"bold","color":"#111111"},"encoding":{"text":{"field":"text"}}},
{"data":{"name":"captionBold"},"mark":{"type":"text","align":"left","baseline":"middle","font":"Open Sans","fontSize":19,"fontWeight":"bold","color":"#222222"},"encoding":{"text":{"field":"text"}}},
{"data":{"name":"captionWide"},"mark":{"type":"text","align":"left","baseline":"middle","font":"Open Sans","fontSize":19,"color":"#444444"},"encoding":{"text":{"field":"text"}}},
{"data":{"name":"captionTight"},"mark":{"type":"text","align":"left","baseline":"middle","font":"Open Sans","fontSize":18.6,"color":"#444444"},"encoding":{"text":{"field":"text"}}}
]}
